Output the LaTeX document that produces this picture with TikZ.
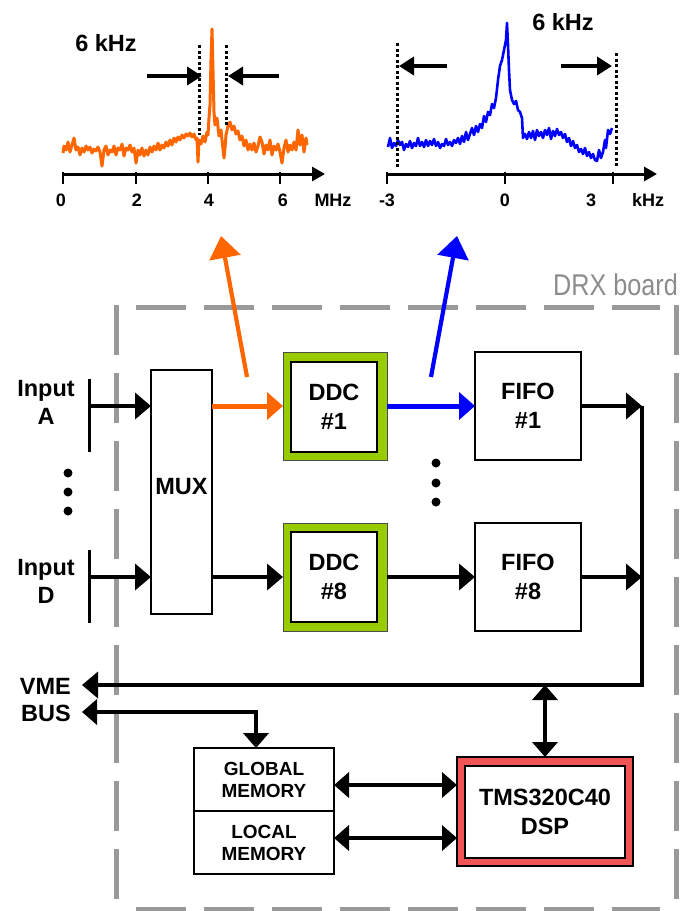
\documentclass[tikz,border=0pt]{standalone}
\usepackage{fontspec}
\setmainfont{Liberation Sans}
\usetikzlibrary{arrows.meta,calc}
\definecolor{ddcgreen}{RGB}{153,204,0}
\definecolor{dspred}{RGB}{240,84,84}
\definecolor{sigorange}{RGB}{255,102,0}
\definecolor{sigblue}{RGB}{0,0,255}
\definecolor{drxgray}{RGB}{153,153,153}
\definecolor{drxtext}{RGB}{140,140,140}
\begin{document}
\begin{tikzpicture}[x=1pt,y=-1pt,
  lbl/.style={font=\fontsize{23.5}{28.5}\selectfont\bfseries, align=center, inner sep=0pt},
  axl/.style={font=\fontsize{18}{20}\selectfont\bfseries, inner sep=0pt},
  box/.style={rectangle, draw=black, line width=2pt, fill=white, inner sep=0pt, outer sep=0pt},
  ddcout/.style={rectangle, draw=black!70, line width=0.8pt, fill=ddcgreen, minimum width=104pt, minimum height=108pt, inner sep=0pt, outer sep=0pt},
  ddcin/.style={box, line width=2.5pt, minimum width=86pt, minimum height=90pt, font=\fontsize{23.5}{28.5}\selectfont\bfseries, align=center},
  fifobox/.style={box, minimum width=106pt, minimum height=108pt, font=\fontsize{23.5}{28.5}\selectfont\bfseries, align=center},
  membox/.style={box, minimum width=140pt, minimum height=63pt, font=\fontsize{19}{22}\selectfont\bfseries, align=center},
  conn/.style={line width=3.8pt, -{Triangle[length=16pt,width=26pt]}},
  sigconn/.style={line width=5pt, -{Triangle[length=16pt,width=27pt]}},
  dconn/.style={line width=3.8pt, {Triangle[length=15pt,width=25pt]}-{Triangle[length=15pt,width=25pt]}},
  diag/.style={line width=4.2pt, -{Triangle[length=22pt,width=31pt]}},
  widtharrow/.style={line width=4pt, -{Triangle[length=15pt,width=18pt]}},
  dotline/.style={line width=3pt, dash pattern=on 3pt off 2.5pt},
  axisline/.style={line width=3pt, -{Triangle[length=13pt,width=14pt]}},
  tickline/.style={line width=2.5pt},
  boardline/.style={draw=drxgray, line width=5pt, dash pattern=on 49.5pt off 18.5pt}
]
\useasboundingbox (0,0) rectangle (680,911);

% ---------- DRX board frame ----------
\draw[boardline] (116,305) -- (116,912);
\draw[boardline] (676,305) -- (676,912);
\draw[boardline] (136,307) -- (660,307);
\draw[boardline] (136,909) -- (660,909);
\node[anchor=base west, inner sep=0pt, text=drxtext, font=\fontsize{30}{30}\selectfont, xscale=0.84] (drx) at (553,295) {DRX board};

% ---------- left spectrum ----------
\draw[sigorange, line width=3pt, line join=round] plot coordinates {
(63,153) (64,146) (66,150) (68,142) (70,152) (72,145) (74,138) (76,150) (78,147) (80,155) (82,148) (84,152) (86,146) (88,150) (90,147) (92,153) (94,149) (96,151) (98,147) (100,152) (102,166) (104,150) (106,146) (108,155) (110,150) (112,152) (114,146) (116,155) (118,148) (120,150) (122,144) (124,156) (126,148) (128,150) (130,145) (132,152) (134,148) (136,163) (138,150) (140,155) (142,148) (144,156) (146,150) (148,155) (150,147) (152,152) (154,146) (156,150) (158,143) (160,150) (162,145) (164,148) (166,142) (168,146) (170,140) (172,145) (174,138) (176,142) (178,137) (180,140) (182,135) (184,138) (186,134) (188,136) (190,133) (192,137) (194,134) (196,140) (197,138) (198,162) (199,140) (201,144) (203,136) (205,142) (207,132) (208,135) (209,118) (210,105) (211,60) (212,29) (213,70) (214,112) (215,125) (217,118) (219,136) (221,130) (222,140) (224,158) (225,148) (226,135) (228,126) (230,122) (232,130) (234,126) (236,134) (238,131) (240,140) (242,136) (244,146) (246,140) (248,150) (250,144) (252,150) (254,143) (256,152) (258,146) (260,137) (262,142) (264,154) (266,145) (268,150) (270,140) (272,155) (274,146) (276,150) (278,144) (280,152) (282,163) (284,148) (286,140) (288,152) (290,145) (292,150) (294,142) (296,150) (298,130) (300,145) (302,135) (304,152) (306,138) (307,145)};
\draw[axisline] (63,174) -- (325,174);
\foreach \x in {63,136,208,280} \draw[tickline] (\x,172) -- (\x,184);
\node[axl] (la0) at (61,200) {0};
\node[axl] (la2) at (137,200) {2};
\node[axl] (la4) at (209,200) {4};
\node[axl] (la6) at (283,200) {6};
\node[axl] (laM) at (333,200) {MHz};
\draw[dotline] (199,45) -- (199,135);
\draw[dotline] (226,45) -- (226,127);
\draw[widtharrow] (147,76) -- (202,76);
\draw[widtharrow] (279,76) -- (228,76);
\node[lbl] (kA) at (106,43) {6 kHz};

% ---------- right spectrum ----------
\draw[sigblue, line width=2.6pt, line join=round] plot coordinates {
(388,147) (390,138) (392,148) (394,143) (396,146) (398,140) (400,145) (402,142) (404,150) (406,144) (408,147) (410,141) (412,148) (414,143) (416,146) (418,138) (420,146) (422,142) (424,147) (426,140) (428,146) (430,141) (432,145) (434,139) (436,146) (438,142) (440,148) (442,144) (444,146) (446,139) (448,145) (450,142) (452,146) (454,140) (456,143) (458,138) (460,144) (462,136) (464,142) (466,132) (468,140) (470,134) (472,128) (474,135) (476,126) (478,132) (480,124) (482,128) (484,116) (486,122) (488,112) (490,115) (492,104) (494,108) (496,98) (498,80) (500,66) (502,60) (504,50) (506,40) (507,23) (508,45) (509,70) (510,90) (512,100) (514,104) (516,101) (518,110) (520,112) (522,118) (523,138) (525,134) (527,139) (529,132) (531,138) (533,131) (535,140) (537,130) (539,136) (541,132) (543,138) (545,130) (547,135) (549,128) (551,139) (553,131) (555,136) (557,129) (559,135) (561,132) (563,138) (565,134) (567,142) (569,138) (571,146) (573,141) (575,148) (577,145) (579,152) (581,149) (583,154) (585,148) (587,156) (589,152) (591,158) (593,154) (595,160) (597,161) (599,150) (601,158) (603,152) (605,140) (606,148) (608,130) (610,134) (612,128)};
\draw[axisline] (387,174) -- (657,174);
\foreach \x in {387,505,613} \draw[tickline] (\x,172) -- (\x,184);
\node[axl] (lbm3) at (387,200) {-3};
\node[axl] (lb0) at (505,200) {0};
\node[axl] (lb3) at (591,200) {3};
\node[axl] (lbk) at (648,200) {kHz};
\draw[dotline] (397,43) -- (397,167);
\draw[dotline] (616,53) -- (616,167);
\draw[widtharrow] (447,66) -- (399,66);
\draw[widtharrow] (561,66) -- (612,66);
\node[lbl] (kB) at (563,22) {6 kHz};

% ---------- blocks ----------
\node[box, minimum width=61pt, minimum height=244pt] (mux) at (181.5,492) {};
\node[lbl] (muxlbl) at (181.5,487) {MUX};

\node[ddcout] (ddc1o) at (335,406) {};
\node[ddcin] (ddc1) at (334,407) {DDC\\\#1};
\node[ddcout] (ddc8o) at (335,577) {};
\node[ddcin] (ddc8) at (334,577) {DDC\\\#8};

\node[fifobox] (fifo1) at (528,406) {FIFO\\\#1};
\node[fifobox] (fifo8) at (528,577) {FIFO\\\#8};

\node[membox] (glob) at (264,779.5) {GLOBAL\\MEMORY};
\node[membox] (loc) at (264,842.5) {LOCAL\\MEMORY};

\node[rectangle, draw=black, line width=1.2pt, fill=dspred, minimum width=176pt, minimum height=109pt, inner sep=0pt, outer sep=0pt] (dspo) at (545,811.5) {};
\node[box, line width=2.5pt, minimum width=160pt, minimum height=92pt, font=\fontsize{23.5}{29}\selectfont\bfseries, align=center] (dsp) at (545,812) {TMS320C40\\DSP};

% ---------- inputs ----------
\node[lbl] (inAlbl) at (46,402.5) {Input\\A};
\node[lbl] (inDlbl) at (46,581.5) {Input\\D};
\coordinate (inAtop) at (89,379);
\coordinate (inAbot) at (89,452);
\coordinate (inA) at (89,406);
\coordinate (inDtop) at (89,550);
\coordinate (inDbot) at (89,623);
\coordinate (inD) at (89,577);
\draw[line width=3pt] (inAtop) -- (inAbot);
\draw[line width=3pt] (inDtop) -- (inDbot);
\draw[conn] (inA) -- (inA -| mux.west);
\draw[conn] (inD) -- (inD -| mux.west);

\foreach \y [count=\i] in {473,492,511} \fill (68,\y) circle (4.5pt) coordinate (dl\i);
\foreach \y [count=\i] in {463,483,502} \fill (436,\y) circle (4.5pt) coordinate (dm\i);

% ---------- data path ----------
\draw[sigconn, sigorange] (mux.east |- ddc1o.west) -- (ddc1o.west);
\draw[conn] (mux.east |- ddc8o.west) -- (ddc8o.west);
\draw[sigconn, sigblue] (ddc1o.east) -- (fifo1.west |- ddc1o.east);
\draw[conn] (ddc8o.east) -- (fifo8.west |- ddc8o.east);

\coordinate (busR1) at (642,406);
\coordinate (busR8) at (642,577);
\draw[conn] (fifo1.east) -- (busR1 |- fifo1.east);
\draw[conn] (fifo8.east) -- (busR8 |- fifo8.east);

% diagonal spectrum arrows
\coordinate (oStart) at (247,377);
\coordinate (oEnd) at (221,236);
\coordinate (bStart) at (431,377);
\coordinate (bEnd) at (457,236);
\draw[diag, sigorange] (oStart) -- (oEnd);
\draw[diag, sigblue] (bStart) -- (bEnd);

% ---------- VME bus ----------
\node[lbl, anchor=east] (vmelbl) at (71,686) {VME};
\node[lbl, anchor=east] (buslbl) at (71,713) {BUS};
\coordinate (vme) at (82,685);
\coordinate (bus) at (82,712);
\coordinate (busdrop) at (256,748);
\coordinate (dspbus) at (545,685);
\draw[conn, line join=miter] (busR1) |- (vme);
\draw[dconn] (bus) -| (busdrop);
\draw[dconn] (dspbus) -- (dspo.north);

\coordinate (gy) at (0,785);
\coordinate (ly) at (0,838);
\draw[dconn] (glob.east |- gy) -- (dspo.west |- gy);
\draw[dconn] (loc.east |- ly) -- (dspo.west |- ly);
\end{tikzpicture}
\end{document}
